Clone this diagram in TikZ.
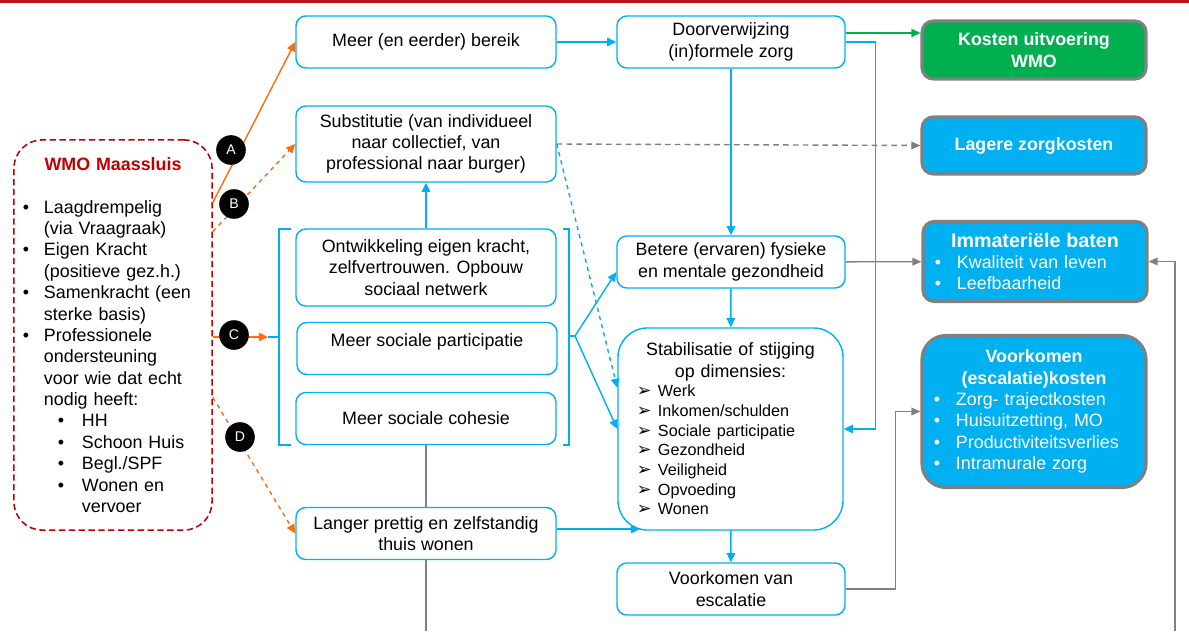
\documentclass[tikz,border=0pt]{standalone}
\usepackage{fontspec}
\setmainfont{Liberation Sans}
\newfontfamily\dejavu{DejaVu Sans}
\usetikzlibrary{arrows.meta}
\definecolor{wmoblue}{RGB}{0,176,240}
\definecolor{wmored}{RGB}{192,0,0}
\definecolor{barred}{RGB}{190,22,22}
\definecolor{wmoorange}{RGB}{252,108,16}
\definecolor{costgreen}{RGB}{0,176,80}
\definecolor{linegray}{RGB}{128,128,128}
\setlength{\parindent}{0pt}
\def\wmoitem#1{\makebox[0.525cm][l]{\textbullet}#1\par}
\def\wmocont#1{\hspace*{0.525cm}#1\par}
\def\wmosub#1{\hspace*{0.875cm}\makebox[0.6cm][l]{\textbullet}#1\par}
\def\wmosubcont#1{\hspace*{1.475cm}#1\par}
\def\dimitem#1{\makebox[0.525cm][l]{\dejavu\fontsize{12.5}{14}\selectfont ➢}#1\par}
\def\costitem#1{\makebox[0.55cm][l]{\textbullet}#1\par}
\begin{document}
\begin{tikzpicture}[x=0.025cm, y=-0.025cm,
	txt/.style={font=\fontsize{12.7}{15.2}\selectfont},
	effbox/.style={txt, draw=wmoblue, line width=1pt, fill=white, rounded corners=7pt, align=center, minimum width=6.5cm, minimum height=1.3cm, inner sep=2pt},
	costbox/.style={txt, draw=linegray, line width=2.2pt, fill=wmoblue, text=white, rounded corners=8pt, align=center, minimum width=5.6cm, inner sep=0pt},
	lbl/.style={circle, fill=black, text=white, minimum size=0.74cm, inner sep=0pt, font=\fontsize{10}{12}\selectfont},
	bluline/.style={draw=wmoblue, line width=1pt},
	bluarrow/.style={bluline, -{Triangle[length=6.5pt,width=6pt]}},
	orarrow/.style={draw=wmoorange, line width=1pt, -{Triangle[length=6.5pt,width=6pt]}},
	grayline/.style={draw=linegray, line width=1pt},
	grayarrow/.style={grayline, -{Triangle[length=6.5pt,width=5.5pt]}}
	]
	\useasboundingbox (0,0) rectangle (1189,631);
	\fill[barred] (0,0) rectangle (1189,3);
	
	% WMO
	\node[txt, draw=wmored, line width=1.1pt, dash pattern=on 4.5pt off 2.5pt, rounded corners=20pt, text width=4.5cm, inner xsep=0.225cm, minimum height=9.75cm] (wmo) at (113,335) {%
		{\centering\bfseries\color{wmored}WMO Maassluis\par}
		\vspace{15.2pt}
		\wmoitem{Laagdrempelig}
		\wmocont{(via Vraagraak)}
		\wmoitem{Eigen Kracht}
		\wmocont{(positieve gez.h.)}
		\wmoitem{Samenkracht (een}
		\wmocont{sterke basis)}
		\wmoitem{Professionele}
		\wmocont{ondersteuning}
		\wmocont{voor wie dat echt}
		\wmocont{nodig heeft:}
		\wmosub{HH}
		\wmosub{Schoon Huis}
		\wmosub{Begl./SPF}
		\wmosub{Wonen en}
		\wmosubcont{vervoer}};
	
	% effecten
	\node[effbox] (bereik) at (426,42) {Meer (en eerder) bereik};
	\node[effbox, minimum height=1.9cm] (subst) at (426,144) {Substitutie (van individueel\\naar collectief, van\\professional naar burger)};
	\node[effbox, minimum height=1.925cm] (ontw) at (426,267.5) {Ontwikkeling eigen kracht,\\zelfvertrouwen. Opbouw\\sociaal netwerk};
	\node[effbox, text depth=12.7pt] (part) at (427,348.5) {Meer sociale participatie};
	\node[effbox] (cohesie) at (426,418.5) {Meer sociale cohesie};
	\node[effbox] (langer) at (426,533.5) {Langer prettig en zelfstandig\\thuis wonen};
	\node[effbox, minimum width=5.7cm] (doorv) at (731,42) {Doorverwijzing\\(in)formele zorg};
	\node[effbox, minimum width=5.7cm] (betere) at (731,262) {Betere (ervaren) fysieke\\en mentale gezondheid};
	\node[effbox, minimum width=5.7cm] (voork) at (731,589) {Voorkomen van\\escalatie};
	\node[effbox, minimum width=5.625cm, minimum height=5.05cm, rounded corners=21pt, text width=4.675cm, inner xsep=0.475cm, align=left] (stab) at (730.5,429) {%
		{\centering Stabilisatie of stijging\\op dimensies:\par}
		{\fontsize{11.5}{14}\selectfont
		\dimitem{Werk}
		\dimitem{Inkomen/schulden}
		\dimitem{Sociale participatie}
		\dimitem{Gezondheid}
		\dimitem{Veiligheid}
		\dimitem{Opvoeding}
		\dimitem{Wonen}}};
	
	% kosten en baten
	\node[costbox, fill=costgreen, font=\fontsize{12.7}{15.2}\selectfont\bfseries, minimum height=1.45cm] (kosten) at (1034,50) {Kosten uitvoering\\WMO};
	\node[costbox, font=\fontsize{12.7}{15.2}\selectfont\bfseries, minimum height=1.425cm] (lagere) at (1034,145.5) {Lagere zorgkosten};
	\node[costbox, text width=5cm, inner xsep=0.3cm, align=left, minimum height=2cm] (immat) at (1035,261.5) {%
		{\centering\fontsize{14}{17}\selectfont\bfseries Immateriële baten\par}
		\costitem{Kwaliteit van leven}
		\costitem{Leefbaarheid}};
	\node[costbox, rounded corners=17pt, text width=5cm, inner xsep=0.3cm, align=left, minimum height=3.8cm] (voorkesc) at (1034,411.5) {%
		{\centering\bfseries Voorkomen\\(escalatie)kosten\par}
		\costitem{Zorg- trajectkosten}
		\costitem{Huisuitzetting, MO}
		\costitem{Productiviteitsverlies}
		\costitem{Intramurale zorg}};
	
	% haken
	\coordinate (lbrace) at (268,337);
	\coordinate (rbrace) at (575,336);
	\draw[bluline] (291,229) -- (279,229) -- (279,445) -- (291,445);
	\draw[bluline] (279,337) -- (lbrace);
	\draw[bluline] (563,229) -- (569,229) -- (569,445) -- (563,445);
	\draw[bluline] (569,336) -- (rbrace);
	
	% pijlen
	\draw[orarrow] (wmo.53.7) -- (bereik.west);
	\draw[orarrow, dashed] (wmo.46.7) -- (subst.west);
	\draw[orarrow] (wmo.east |- lbrace) -- (lbrace);
	\draw[orarrow, dashed] (wmo.-32.5) -- (langer.west);
	
	\draw[bluarrow] (bereik) -- (doorv);
	\draw[bluarrow] (doorv) -- (betere);
	\draw[bluarrow] (betere) -- (stab);
	\draw[bluarrow] (stab) -- (voork);
	\draw[bluarrow] (ontw) -- (subst);
	\draw[bluarrow] (rbrace) -- (betere.185);
	\draw[bluarrow] (rbrace) -- (stab.west);
	\draw[bluarrow, dashed] (subst.east) -- (stab.160);
	\draw[bluarrow] (doorv.east) -- ++(30,0) |- (stab.east);
	\coordinate (stabin) at (640,529);
	\draw[bluarrow] (langer.east |- stabin) -- (stabin);
	
	\path ([yshift=6.4pt]doorv.east) coordinate (gout);
	\draw[draw=costgreen, line width=1pt, -{Triangle[length=6.5pt,width=6pt]}] (gout) -- (gout -| kosten.west);
	
	\draw[grayarrow, dash pattern=on 4pt off 3pt] (subst.east) -- (lagere.west);
	\draw[grayarrow] (betere) -- (immat);
	\draw[grayarrow] (voork.east) -- ++(50,0) |- (voorkesc.west);
	\draw[grayline] (cohesie) -- (langer);
	\coordinate (lbot) at (426,631);
	\draw[grayline] (langer) -- (lbot);
	\coordinate (rbot) at (1175,631);
	\draw[grayarrow] (rbot) |- (immat.east);
	
	% labels
	\node[lbl] (a) at (231,150) {A};
	\node[lbl] (b) at (234,204) {B};
	\node[lbl] (c) at (234,335) {C};
	\node[lbl] (d) at (240,437) {D};
\end{tikzpicture}
\end{document}
